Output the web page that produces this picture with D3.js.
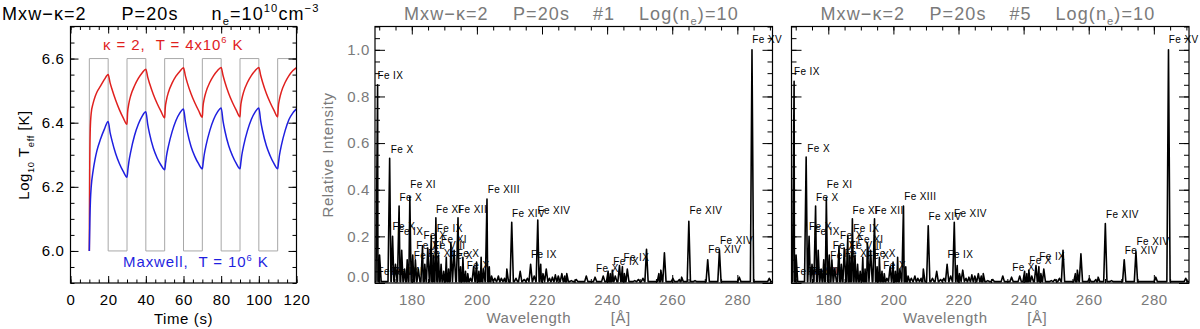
<!DOCTYPE html>
<html>
<head>
<meta charset="utf-8">
<script src="https://cdn.jsdelivr.net/npm/d3@7"></script>
<style>
  body { margin: 0; background: #fff; }
  text { font-family: "Liberation Sans", Arial, sans-serif; white-space: pre; }
</style>
</head>
<body>
<svg id="chart" width="1200" height="329"></svg>
<script>
// ---- data ----
const timeTicks = [0, 20, 40, 60, 80, 100, 120];
const tempTicks = [6.0, 6.2, 6.4, 6.6];

// heating switch (grey square wave), [time s, log T]
const heatingSwitch = [
  [10, 6.0], [10, 6.6], [20, 6.6], [20, 6.0], [30, 6.0], [30, 6.6], [40, 6.6], [40, 6.0],
  [50, 6.0], [50, 6.6], [60, 6.6], [60, 6.0], [70, 6.0], [70, 6.6], [80, 6.6], [80, 6.0],
  [90, 6.0], [90, 6.6], [100, 6.6], [100, 6.0], [110, 6.0], [110, 6.6], [120, 6.6]
];

// kappa = 2 effective temperature
const kappaTemp = [
  [10, 6.00], [10.2, 6.25], [10.5, 6.38], [11, 6.43], [12, 6.46], [13, 6.48], [14, 6.495], [16, 6.515], [18, 6.535], [20, 6.55],
  [21, 6.525], [22, 6.505], [24, 6.47], [26, 6.44], [28, 6.415], [30, 6.395],
  [30.3, 6.43], [31, 6.46], [32, 6.485], [34, 6.515], [36, 6.538], [38, 6.555], [40, 6.567],
  [41, 6.542], [42, 6.522], [44, 6.488], [46, 6.46], [48, 6.436], [50, 6.415],
  [50.3, 6.445], [51, 6.472], [52, 6.495], [54, 6.524], [56, 6.545], [58, 6.56], [60, 6.571],
  [61, 6.546], [62, 6.525], [64, 6.49], [66, 6.462], [68, 6.438], [70, 6.417],
  [70.3, 6.447], [71, 6.474], [72, 6.497], [74, 6.526], [76, 6.547], [78, 6.562], [80, 6.572],
  [81, 6.547], [82, 6.526], [84, 6.491], [86, 6.463], [88, 6.439], [90, 6.418],
  [90.3, 6.447], [91, 6.474], [92, 6.497], [94, 6.526], [96, 6.547], [98, 6.562], [100, 6.572],
  [101, 6.547], [102, 6.526], [104, 6.491], [106, 6.463], [108, 6.439], [110, 6.418],
  [110.3, 6.447], [111, 6.474], [112, 6.497], [114, 6.526], [116, 6.547], [118, 6.562], [120, 6.572]
];

// Maxwellian effective temperature
const maxwellTemp = [
  [10, 6.00], [10.3, 6.10], [10.6, 6.16], [11, 6.20], [12, 6.25], [13, 6.285], [14, 6.312], [16, 6.35], [18, 6.38], [20, 6.404],
  [21, 6.37], [22, 6.345], [24, 6.303], [26, 6.272], [28, 6.248], [30, 6.23],
  [30.5, 6.255], [31, 6.278], [32, 6.31], [34, 6.36], [36, 6.395], [38, 6.42], [40, 6.434],
  [41, 6.395], [42, 6.365], [44, 6.32], [46, 6.29], [48, 6.268], [50, 6.253],
  [50.5, 6.275], [51, 6.297], [52, 6.327], [54, 6.373], [56, 6.407], [58, 6.43], [60, 6.443],
  [61, 6.403], [62, 6.372], [64, 6.326], [66, 6.295], [68, 6.272], [70, 6.256],
  [70.5, 6.278], [71, 6.3], [72, 6.33], [74, 6.376], [76, 6.41], [78, 6.433], [80, 6.446],
  [81, 6.405], [82, 6.374], [84, 6.328], [86, 6.297], [88, 6.273], [90, 6.256],
  [90.5, 6.278], [91, 6.3], [92, 6.33], [94, 6.376], [96, 6.41], [98, 6.433], [100, 6.446],
  [101, 6.405], [102, 6.374], [104, 6.328], [106, 6.297], [108, 6.273], [110, 6.256],
  [110.5, 6.278], [111, 6.3], [112, 6.33], [114, 6.376], [116, 6.41], [118, 6.43], [120, 6.443]
];

const wavelengthTicks = [180, 200, 220, 240, 260, 280];
const intensityTicks = [0.0, 0.2, 0.4, 0.6, 0.8, 1.0];

// spectral lines, [wavelength A, relative intensity]
const peaksFrame1 = [
  [169.5, 0.85], [170.1, 0.12], [173.2, 0.535], [174.1, 0.20], [175.0, 0.08], [176.1, 0.33], [176.9, 0.14],
  [177.8, 0.06], [178.6, 0.10], [179.4, 0.37], [180.3, 0.12], [181.1, 0.10], [182.0, 0.06], [183.3, 0.16],
  [184.0, 0.08], [184.9, 0.15], [186.0, 0.20], [186.6, 0.12], [187.4, 0.28], [188.2, 0.12], [189.0, 0.08],
  [189.8, 0.05], [190.6, 0.11], [191.3, 0.06], [192.0, 0.17], [193.0, 0.14], [194.2, 0.28], [195.0, 0.07],
  [195.7, 0.11], [196.5, 0.05], [197.2, 0.04], [198.0, 0.02], [199.0, 0.07], [199.9, 0.09], [200.6, 0.05],
  [201.3, 0.11], [202.0, 0.06], [203.1, 0.36], [203.8, 0.07], [204.5, 0.03], [205.5, 0.02], [206.6, 0.03],
  [207.5, 0.02], [208.5, 0.02], [209.2, 0.06], [210.7, 0.26], [212.0, 0.02], [213.3, 0.05], [214.5, 0.015],
  [215.5, 0.02], [216.5, 0.08], [217.6, 0.03], [218.7, 0.27], [219.6, 0.08], [220.3, 0.04], [221.3, 0.06],
  [222.3, 0.02], [223.2, 0.025], [224.1, 0.035], [225.0, 0.03], [226.1, 0.04], [227.0, 0.03], [227.6, 0.04],
  [229.0, 0.01], [230.5, 0.015], [233.6, 0.03], [236.3, 0.025], [238.8, 0.03], [240.3, 0.05], [241.0, 0.04],
  [241.6, 0.055], [242.5, 0.03], [243.8, 0.075], [244.7, 0.07], [245.3, 0.04], [246.2, 0.06], [248.5, 0.01],
  [249.6, 0.015], [251.0, 0.02], [252.1, 0.145], [255.9, 0.04], [256.5, 0.055], [257.6, 0.13], [260.2, 0.02],
  [262.2, 0.015], [262.9, 0.025], [265.1, 0.265], [267.0, 0.01], [270.9, 0.10], [274.5, 0.14], [280.6, 0.025],
  [284.5, 1.00], [289.8, 0.02]
];

const peaksFrame5 = [
  [169.5, 0.865], [170.1, 0.12], [173.2, 0.54], [174.1, 0.20], [175.0, 0.08], [176.1, 0.33], [176.9, 0.14],
  [177.8, 0.06], [178.6, 0.10], [179.4, 0.365], [180.3, 0.12], [181.1, 0.10], [182.0, 0.06], [183.3, 0.16],
  [184.0, 0.08], [184.9, 0.15], [186.0, 0.20], [186.6, 0.12], [187.4, 0.275], [188.2, 0.12], [189.0, 0.08],
  [189.8, 0.05], [190.6, 0.11], [191.3, 0.06], [192.0, 0.17], [193.0, 0.14], [194.2, 0.275], [195.0, 0.07],
  [195.7, 0.11], [196.5, 0.05], [197.2, 0.04], [198.0, 0.02], [199.0, 0.07], [199.9, 0.09], [200.6, 0.05],
  [201.3, 0.11], [202.0, 0.06], [203.1, 0.33], [203.8, 0.07], [204.5, 0.03], [205.5, 0.02], [206.6, 0.03],
  [207.5, 0.02], [208.5, 0.02], [209.2, 0.06], [210.7, 0.245], [212.0, 0.02], [213.3, 0.05], [214.5, 0.015],
  [215.5, 0.02], [216.5, 0.08], [217.6, 0.03], [218.7, 0.26], [219.6, 0.075], [220.3, 0.04], [221.3, 0.055],
  [222.3, 0.02], [223.2, 0.025], [224.1, 0.035], [225.0, 0.03], [226.1, 0.04], [227.0, 0.03], [227.6, 0.04],
  [229.0, 0.01], [230.5, 0.015], [233.6, 0.03], [236.3, 0.025], [238.8, 0.03], [240.3, 0.05], [241.0, 0.04],
  [241.6, 0.055], [242.5, 0.03], [243.8, 0.075], [244.7, 0.07], [245.3, 0.04], [246.2, 0.06], [248.5, 0.01],
  [249.6, 0.015], [251.0, 0.02], [252.1, 0.14], [255.9, 0.04], [256.5, 0.055], [257.6, 0.125], [260.2, 0.02],
  [262.2, 0.015], [262.9, 0.025], [265.1, 0.255], [267.0, 0.01], [270.9, 0.10], [274.5, 0.135], [280.6, 0.025],
  [284.5, 1.00], [289.8, 0.02]
];

// line identifications, [wavelength, intensity, ion]
const labelsFrame1 = [
  [169.45, 0.875, "Fe IX"], [173.55, 0.557, "Fe X"], [179.5, 0.407, "Fe XI"], [176.2, 0.35, "Fe X"],
  [187.4, 0.30, "Fe XI"], [194.2, 0.30, "Fe XII"], [203.3, 0.386, "Fe XIII"],
  [210.8, 0.285, "Fe XIV"], [218.6, 0.296, "Fe XIV"], [216.6, 0.107, "Fe IX"], [196.9, 0.06, "Fe X"],
  [174.1, 0.227, "Fe X"], [175.6, 0.206, "Fe IX"], [183.6, 0.19, "Fe X"], [187.7, 0.22, "Fe IX"],
  [181.4, 0.145, "Fe XI"], [186.6, 0.145, "Fe VIII"], [189.0, 0.17, "Fe XI"], [180.6, 0.105, "Fe IX"],
  [185.0, 0.11, "Fe XI"], [191.8, 0.105, "Fe X"], [193.8, 0.11, "Fe X"],
  [169.5, 0.035, "Fe IX"], [173.6, 0.035, "Fe VIII"], [174.3, 0.035, "Fe IX"],
  [236.6, 0.047, "Fe X"], [241.9, 0.077, "Fe IX"], [245.0, 0.094, "Fe IX"],
  [265.3, 0.294, "Fe XIV"], [271.1, 0.129, "Fe XIV"], [274.7, 0.167, "Fe XIV"], [284.6, 1.03, "Fe XV"]
];

const labelsFrame5 = [
  [169.45, 0.89, "Fe IX"], [173.55, 0.56, "Fe X"], [179.5, 0.407, "Fe XI"], [176.2, 0.35, "Fe X"],
  [187.4, 0.295, "Fe XI"], [194.2, 0.295, "Fe XII"], [203.3, 0.356, "Fe XIII"],
  [210.8, 0.27, "Fe XIV"], [218.6, 0.285, "Fe XIV"], [216.6, 0.107, "Fe IX"], [196.9, 0.06, "Fe X"],
  [174.1, 0.227, "Fe X"], [175.6, 0.206, "Fe IX"], [183.6, 0.19, "Fe X"], [187.7, 0.22, "Fe IX"],
  [181.4, 0.145, "Fe XI"], [186.6, 0.145, "Fe VIII"], [189.0, 0.17, "Fe XI"], [180.6, 0.105, "Fe IX"],
  [185.0, 0.11, "Fe XI"], [191.8, 0.105, "Fe X"], [193.8, 0.11, "Fe X"],
  [169.5, 0.035, "Fe IX"], [173.6, 0.035, "Fe VIII"], [174.2, 0.035, "Fe VIII"], [174.8, 0.035, "Fe IX"],
  [236.5, 0.051, "Fe X"], [241.7, 0.081, "Fe X"], [244.8, 0.099, "Fe IX"],
  [265.3, 0.279, "Fe XIV"], [271.1, 0.124, "Fe XIV"], [274.7, 0.161, "Fe XIV"], [284.6, 1.03, "Fe XV"]
];

// ---- drawing ----
const svg = d3.select('#chart');
const GREY = '#7a7a7a';
const RED = '#e0201e';
const BLUE = '#1f1fe0';

// writes text made of plain / sub / sup pieces
function richText(g, x, y, parts, size, color, anchor) {
  const t = g.append('text')
    .attr('x', x).attr('y', y)
    .attr('font-size', size)
    .attr('fill', color)
    .attr('text-anchor', anchor || 'start');
  let shift = 0;
  parts.forEach(p => {
    const s = typeof p === 'string' ? { t: p } : p;
    const target = s.sub ? size * 0.3 : s.sup ? -size * 0.42 : 0;
    t.append('tspan')
      .attr('dy', target - shift)
      .attr('font-size', s.sub || s.sup ? size * 0.62 : size)
      .text(s.t);
    shift = target;
  });
  return t;
}

function drawTicks(g, x, y, o) {
  const [x0, x1] = x.range();
  const [y1, y0] = y.range();
  const sides = [
    [d3.axisBottom, x, o.xMajor, o.xMinor, `translate(0,${y1})`, o.xFmt, o.xLen, o.xPad],
    [d3.axisTop, x, o.xMajor, o.xMinor, `translate(0,${y0})`, null, o.xLen, 0],
    [d3.axisLeft, y, o.yMajor, o.yMinor, `translate(${x0},0)`, o.yFmt, o.yLen, o.yPad],
    [d3.axisRight, y, o.yMajor, o.yMinor, `translate(${x1},0)`, null, o.yLen, 0]
  ];
  sides.forEach(([axisFn, scale, major, minor, tr, fmt, len, pad], i) => {
    const gMin = g.append('g').attr('transform', tr)
      .call(axisFn(scale).tickValues(minor).tickSize(-len / 2).tickFormat(''));
    gMin.select('.domain').remove();
    const gMaj = g.append('g').attr('transform', tr)
      .call(axisFn(scale).tickValues(major).tickSize(-len).tickPadding(pad).tickFormat(fmt ? fmt : ''));
    gMaj.select('.domain').remove();
    gMaj.selectAll('text')
      .attr('font-size', o.labelSize)
      .attr('fill', o.labelColor)
      .attr('font-family', '"Liberation Sans", Arial, sans-serif')
      .style('letter-spacing', '0.6px');
    if (i === 2 && o.zeroNudge) {
      gMaj.selectAll('.tick').filter(d => d === 0).select('text').attr('dy', o.zeroNudge);
    }
  });
  g.selectAll('.tick line').attr('stroke', '#000').attr('stroke-width', 1);
  g.append('rect')
    .attr('x', x0).attr('y', y0)
    .attr('width', x1 - x0).attr('height', y1 - y0)
    .attr('fill', 'none').attr('stroke', '#000').attr('stroke-width', 1.2);
}

function range(a, b, step) {
  return d3.range(Math.round((b - a) / step) + 1).map(i => +(a + i * step).toFixed(4));
}

// ---- left panel: effective temperature ----
(function () {
  const x = d3.scaleLinear().domain([0, 120]).range([70.5, 296.5]);
  const y = d3.scaleLinear().domain([5.9, 6.7]).range([283, 26.5]);
  const g = svg.append('g');

  g.append('clipPath').attr('id', 'clipT').append('rect')
    .attr('x', 70.5).attr('y', 26.5).attr('width', 226).attr('height', 256.5);
  const plot = g.append('g').attr('clip-path', 'url(#clipT)');

  const line = d3.line().x(d => x(d[0])).y(d => y(d[1]));
  plot.append('path').datum(heatingSwitch)
    .attr('d', line).attr('fill', 'none').attr('stroke', '#a8a8a8').attr('stroke-width', 1);

  const smooth = d3.line().x(d => x(d[0])).y(d => y(d[1])).curve(d3.curveMonotoneX);
  plot.append('path').datum(kappaTemp)
    .attr('d', smooth).attr('fill', 'none').attr('stroke', RED).attr('stroke-width', 1.5);
  plot.append('path').datum(maxwellTemp)
    .attr('d', smooth).attr('fill', 'none').attr('stroke', BLUE).attr('stroke-width', 1.5);

  drawTicks(g, x, y, {
    xMajor: timeTicks, xMinor: range(0, 120, 5), xFmt: d3.format('d'), xLen: 7, xPad: 11,
    yMajor: tempTicks, yMinor: range(5.9, 6.7, 0.05), yFmt: d3.format('.1f'), yLen: 8, yPad: 6,
    labelSize: 15, labelColor: '#000'
  });

  richText(g, 103, 49.5, ['κ = 2,  T = 4x10', { t: '6', sup: true }, ' K'], 15, RED)
    .style('letter-spacing', '0.9px');
  richText(g, 123, 267, ['Maxwell,  T = 10', { t: '6', sup: true }, ' K'], 15, BLUE)
    .style('letter-spacing', '0.9px');

  richText(g, 183.5, 323.5, ['Time (s)'], 15, '#000', 'middle').style('letter-spacing', '0.6px');

  const yl = richText(g, 0, 0, ['Log', { t: '10', sub: true }, ' T', { t: 'eff', sub: true }, ' [K]'], 15, '#000', 'middle')
    .style('letter-spacing', '0.6px');
  yl.attr('transform', 'translate(29,155) rotate(-90)');

  // title
  const title = [
    [2, ['Mxw−κ=2']],
    [121.5, ['P=20s']],
    [211.5, ['n', { t: 'e', sub: true }, '=10', { t: '10', sup: true }, 'cm', { t: '−3', sup: true }]]
  ];
  title.forEach(([tx, parts]) => richText(g, tx, 19.5, parts, 18, '#000').style('letter-spacing', '1.1px'));
})();

// ---- spectrum panels ----
function spectrumPanel(x0, x1, peaks, labels, frameNo, withYLabels, id) {
  const x = d3.scaleLinear().domain([168.7, 290.8]).range([x0, x1]);
  const y = d3.scaleLinear().domain([0, 1.1]).range([283, 26.5]);
  const g = svg.append('g');

  g.append('clipPath').attr('id', id).append('rect')
    .attr('x', x0).attr('y', 26.5).attr('width', x1 - x0).attr('height', 256.5);

  // each line drawn as a narrow spike on a faint continuum
  const halfWidth = 0.5, continuum = 0.006;
  const pts = [[x.domain()[0], continuum]];
  peaks.forEach(([w, h]) => pts.push([w - halfWidth, continuum], [w, h], [w + halfWidth, continuum]));
  pts.push([x.domain()[1], continuum]);
  pts.sort((a, b) => a[0] - b[0]);

  g.append('g').attr('clip-path', `url(#${id})`)
    .append('path').datum(pts)
    .attr('d', d3.line().x(d => x(d[0])).y(d => y(d[1])))
    .attr('fill', 'none').attr('stroke', '#000').attr('stroke-width', 1.6).attr('stroke-linejoin', 'round');

  g.append('g').selectAll('text').data(labels).join('text')
    .attr('x', d => x(d[0]))
    .attr('y', d => y(d[1]))
    .attr('font-size', 10)
    .attr('fill', '#000')
    .style('letter-spacing', '0.4px')
    .text(d => d[2]);

  drawTicks(g, x, y, {
    xMajor: wavelengthTicks, xMinor: range(170, 290, 5), xFmt: d3.format('d'), xLen: 8, xPad: 11,
    yMajor: intensityTicks, yMinor: range(0, 1.1, 0.05), yFmt: withYLabels ? d3.format('.1f') : null, yLen: 10, yPad: 5,
    labelSize: 15, labelColor: GREY, zeroNudge: '-0.1em'
  });

  const cx = (x0 + x1) / 2;
  const xl = g.append('text').attr('y', 322.5).attr('font-size', 15).attr('fill', GREY)
    .style('letter-spacing', '0.6px');
  xl.append('tspan').attr('x', cx - 45).attr('text-anchor', 'middle').text('Wavelength');
  xl.append('tspan').attr('x', cx + 47).attr('text-anchor', 'middle').text('[Å]');

  if (withYLabels) {
    g.append('text').attr('transform', `translate(333,155) rotate(-90)`)
      .attr('text-anchor', 'middle').attr('font-size', 15).attr('fill', GREY)
      .style('letter-spacing', '0.6px')
      .text('Relative Intensity');
  }

  const title = [
    [29, ['Mxw−κ=2']],
    [138, ['P=20s']],
    [218, ['#' + frameNo]],
    [264, ['Log(n', { t: 'e', sub: true }, ')=10']]
  ];
  title.forEach(([tx, parts]) => richText(g, x0 + tx, 19.5, parts, 18, GREY).style('letter-spacing', '1.1px'));
}

spectrumPanel(375, 772.5, peaksFrame1, labelsFrame1, 1, true, 'clipS1');
spectrumPanel(791.5, 1189, peaksFrame5, labelsFrame5, 5, false, 'clipS5');
</script>
</body>
</html>
